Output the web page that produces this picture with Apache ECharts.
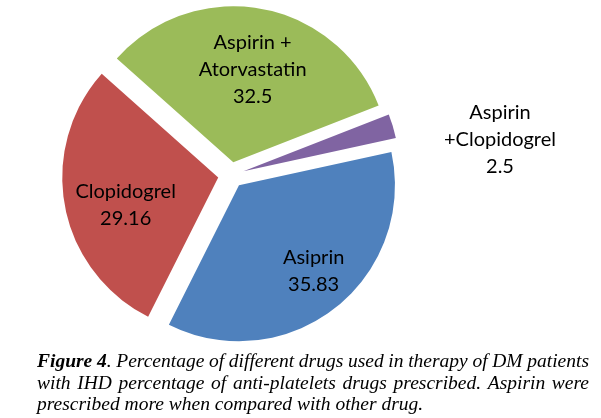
<!DOCTYPE html>
<html>
<head>
<meta charset="utf-8">
<script src="https://cdn.jsdelivr.net/npm/echarts@6/dist/echarts.min.js"></script>
<style>
html,body{margin:0;padding:0;background:#fff;}
#chart{width:601px;height:418px;}
</style>
</head>
<body>
<div id="chart"></div>
<script>
// Data
var categories = ['Asiprin', 'Clopidogrel', 'Aspirin +\nAtorvastatin', 'Aspirin\n+Clopidogrel'];
var values = [35.83, 29.16, 32.5, 2.5];

// Styling
var colors = ['#4F81BD', '#C0504D', '#9BBB59', '#8064A2'];
var labelDx = [25, -13, 5, 179];
var labelDy = [22, 12, -13, -8];

var captionLines = [
  [{b: 'Figure 4'}, {i: '. Percentage of different drugs used in therapy of DM patients'}],
  [{i: 'with IHD percentage of anti-platelets drugs prescribed. Aspirin were'}],
  [{i: 'prescribed more when compared with other drug.'}]
];
var captionJustify = [true, true, false];

var chart = echarts.init(document.getElementById('chart'), null, {renderer: 'canvas'});

var data = categories.map(function (c, i) {
  return {name: c, value: values[i], selected: true, itemStyle: {color: colors[i]}};
});

// Caption (justified like the source figure)
var capFont = 19.5, capLeft = 37, capRight = 589, capTop = 352, capLH = 21.5;
var fontOf = function (k) {
  return 'italic ' + (k === 'b' ? 'bold ' : '') + capFont + 'px "Liberation Serif"';
};
var ctx = document.createElement('canvas').getContext('2d');
var measure = function (k, t) { ctx.font = fontOf(k); return ctx.measureText(t).width; };
var richStyles = {
  b: {fontFamily: 'Liberation Serif', fontStyle: 'italic', fontWeight: 'bold', fontSize: capFont, color: '#000'},
  i: {fontFamily: 'Liberation Serif', fontStyle: 'italic', fontSize: capFont, color: '#000'}
};
var graphics = [];
captionLines.forEach(function (line, li) {
  var tokens = [[]];
  line.forEach(function (seg) {
    var k = seg.b ? 'b' : 'i';
    var parts = (seg.b || seg.i).split(' ');
    parts.forEach(function (p, pi) {
      if (pi > 0) tokens.push([]);
      if (p.length) tokens[tokens.length - 1].push({k: k, t: p});
    });
  });
  tokens = tokens.filter(function (t) { return t.length; });
  var widths = tokens.map(function (tok) {
    return tok.reduce(function (s, p) { return s + measure(p.k, p.t); }, 0);
  });
  var total = widths.reduce(function (a, b) { return a + b; }, 0);
  var gap = captionJustify[li] ? (capRight - capLeft - total) / (tokens.length - 1) : measure('i', ' ');
  var x = capLeft;
  tokens.forEach(function (tok, ti) {
    graphics.push({
      type: 'text',
      x: x,
      y: capTop + li * capLH,
      style: {
        text: tok.map(function (p) { return '{' + p.k + '|' + p.t + '}'; }).join(''),
        rich: richStyles,
        verticalAlign: 'top'
      }
    });
    x += widths[ti] + gap;
  });
});

chart.setOption({
  animation: false,
  backgroundColor: '#fff',
  series: [{
    type: 'pie',
    center: [231, 175],
    radius: 156,
    startAngle: 12.3,
    clockwise: true,
    selectedMode: 'multiple',
    selectedOffset: 13,
    avoidLabelOverlap: false,
    data: data,
    label: {
      show: true,
      position: 'inside',
      formatter: '{b}\n{c}',
      fontFamily: 'Lato',
      fontSize: 20,
      lineHeight: 27,
      color: '#000',
      align: 'center'
    },
    labelLine: {show: false},
    emphasis: {disabled: true},
    labelLayout: function (params) {
      return {dx: labelDx[params.dataIndex], dy: labelDy[params.dataIndex]};
    }
  }],
  graphic: graphics
});
</script>
</body>
</html>
